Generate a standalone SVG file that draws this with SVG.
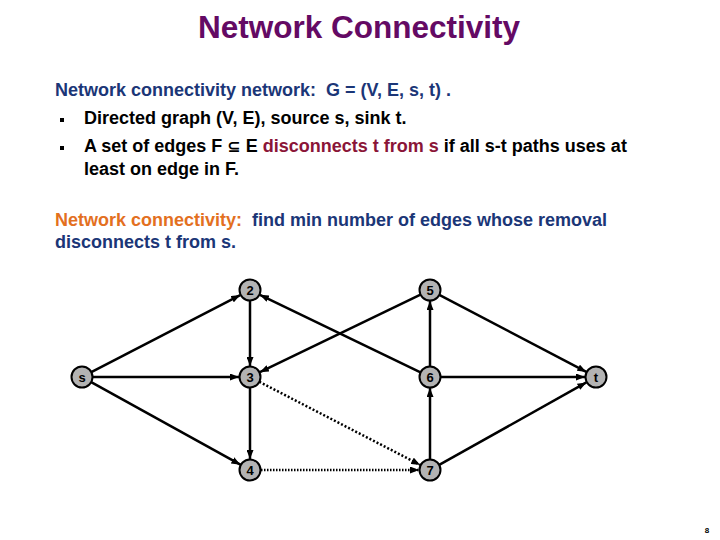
<svg xmlns="http://www.w3.org/2000/svg" width="720" height="540" viewBox="0 0 720 540">
<defs>
<style>
.t{font-family:"Liberation Sans",Arial,sans-serif;font-weight:bold;font-size:18px}
.navy{fill:#1b3677}
.blk{fill:#000}
.e{stroke:#000;stroke-width:2.5;fill:none;marker-end:url(#ah)}
.n circle{fill:#b3b3b3;stroke:#000;stroke-width:2}
.n text{font-family:"Liberation Sans",Arial,sans-serif;font-weight:bold;font-size:13px;text-anchor:middle;fill:#000}
</style>
<marker id="ah" markerUnits="userSpaceOnUse" markerWidth="9" markerHeight="7" refX="9" refY="3.5" orient="auto">
<path d="M0,0 L9,3.5 L0,7 z" fill="#000"/>
</marker>
</defs>
<rect width="720" height="540" fill="#fff"/>
<text class="t" x="359" y="38" style="font-size:31.5px" text-anchor="middle" fill="#640a64">Network Connectivity</text>
<text class="t navy" x="55" y="96" xml:space="preserve">Network connectivity network:  G = (V, E, s, t) .</text>
<rect x="60" y="118" width="4" height="4" fill="#000"/>
<rect x="60" y="146" width="4" height="4" fill="#000"/>
<text class="t blk" x="84" y="124">Directed graph (V, E), source s, sink t.</text>
<text class="t blk" x="84" y="152">A set of edges F <tspan font-family="'DejaVu Sans',sans-serif" font-size="16">⊆</tspan> E <tspan fill="#8a1538">disconnects t from s</tspan> if all s-t paths uses at</text>
<text class="t blk" x="84" y="175">least on edge in F.</text>
<text class="t navy" x="55" y="226" xml:space="preserve"><tspan fill="#e3701f">Network connectivity:</tspan>  find min number of edges whose removal</text>
<text class="t navy" x="55" y="248">disconnects t from s.</text>
<g id="connectors">
<line class="e" x1="91.3" y1="372.2" x2="240.2" y2="295.1"/>
<line class="e" x1="93" y1="377" x2="239" y2="377"/>
<line class="e" x1="91.2" y1="382.1" x2="240.4" y2="464.7"/>
<line class="e" x1="250" y1="301" x2="250" y2="366"/>
<line class="e" x1="250" y1="388" x2="250" y2="459"/>
<line class="e" x1="420.5" y1="372.4" x2="259.9" y2="294.8"/>
<line class="e" x1="420.5" y1="294.6" x2="259.9" y2="372.2"/>
<line class="e" x1="259.3" y1="381.8" x2="420.2" y2="464.9" stroke-width="1.5" stroke-dasharray="2,2"/>
<line class="e" x1="261" y1="470" x2="419" y2="470" stroke-width="3" stroke-dasharray="1.5,1.5"/>
<line class="e" x1="430" y1="366" x2="430" y2="301"/>
<line class="e" x1="430" y1="459" x2="430" y2="388"/>
<line class="e" x1="439.3" y1="294.9" x2="586.3" y2="371.9"/>
<line class="e" x1="441" y1="377" x2="585" y2="377"/>
<line class="e" x1="439.2" y1="464.9" x2="586.4" y2="382.4"/>
</g>
<g id="node-s" class="n"><circle cx="82" cy="377" r="10.5"/><text x="82" y="381.5">s</text></g>
<g id="node-2" class="n"><circle cx="250" cy="290" r="10.5"/><text x="250" y="294.5">2</text></g>
<g id="node-3" class="n"><circle cx="250" cy="377" r="10.5"/><text x="250" y="381.5">3</text></g>
<g id="node-4" class="n"><circle cx="250" cy="470" r="10.5"/><text x="250" y="474.5">4</text></g>
<g id="node-5" class="n"><circle cx="430" cy="290" r="10.5"/><text x="430" y="294.5">5</text></g>
<g id="node-6" class="n"><circle cx="430" cy="377" r="10.5"/><text x="430" y="381.5">6</text></g>
<g id="node-7" class="n"><circle cx="430" cy="470" r="10.5"/><text x="430" y="474.5">7</text></g>
<g id="node-t" class="n"><circle cx="596" cy="377" r="10.5"/><text x="596" y="381.5">t</text></g>
<text x="707" y="533" font-family="'Liberation Sans',Arial,sans-serif" font-weight="bold" font-size="8" text-anchor="middle" fill="#000">8</text>
</svg>
